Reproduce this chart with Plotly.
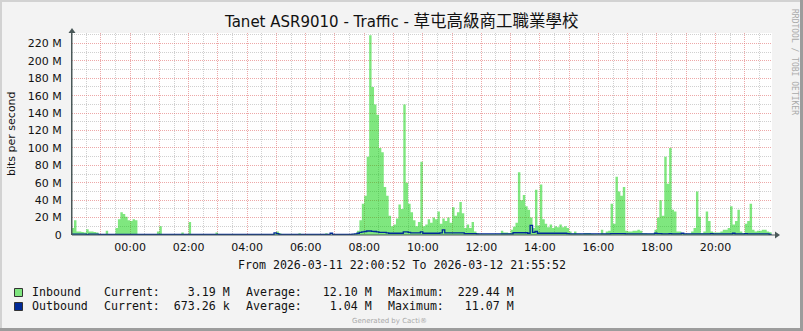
import pandas as pd
import plotly.graph_objects as go

# ---------------- data ----------------
title_latin = "Tanet ASR9010 - Traffic - "
title_cjk = "草屯高級商工職業學校"
y_axis_title = "bits per second"
range_start = "2026-03-11 22:00:52"
range_end = "2026-03-12 21:55:52"
sample_start = "2026-03-11 22:00"
sample_minutes = 5

# inbound traffic, Mbit/s, one row per hour (5-minute samples)
inbound_mbps = [
    8, 17, 4, 4, 3.5, 3, 6.5, 4, 4, 3.5, 3, 1,                 # 22:00
    0.5, 0.5, 5, 0.5, 0.5, 0.5, 8, 18, 26, 24, 21, 17,         # 23:00
    16, 18, 17, 0.4, 0.3, 0.3, 0.3, 0.3, 0.3, 0.3, 0.5, 4,     # 00:00
    10, 0.4, 0.3, 0.3, 0.3, 0.3, 0.3, 0.3, 0.3, 3, 0.3, 0.3,   # 01:00
    15, 0.5, 0.3, 0.3, 0.3, 0.3, 0.3, 0.3, 0.3, 0.3, 0.3, 3,   # 02:00
    0.3, 0.3, 0.3, 0.3, 0.3, 0.3, 0.3, 0.3, 0.3, 0.3, 0.3, 0.3,  # 03:00
    0.3, 0.3, 0.3, 0.3, 0.3, 0.3, 0.3, 0.3, 0.3, 0.3, 0.3, 2,  # 04:00
    4, 2, 0.3, 0.3, 0.3, 0.3, 0.3, 0.3, 0.3, 2, 0.3, 0.3,      # 05:00
    0.3, 0.3, 0.3, 0.3, 0.3, 0.3, 0.3, 0.3, 2, 0.3, 0.5, 0.3,  # 06:00
    0.3, 0.3, 0.5, 0.3, 0.3, 0.3, 0.5, 1, 1.5, 5, 17, 36,      # 07:00
    45, 90, 229.44, 170, 150, 138, 100, 95, 55, 45, 22, 10,    # 08:00
    12, 19, 35, 30, 150, 60, 36, 26, 17, 10, 15, 84,           # 09:00
    10, 12, 18, 14, 20, 18, 27, 13, 19, 16, 20, 14,            # 10:00
    32, 22, 26, 38, 25, 8, 12, 8, 15, 4, 2, 1,                 # 11:00
    1, 1, 1, 1, 1, 1, 1, 1, 5, 3, 3, 2,                        # 12:00
    6, 9.5, 14, 72, 40, 46, 33, 29, 20, 8, 52, 11,             # 13:00
    58, 18, 13, 9, 12, 8, 10, 9, 12, 9, 10, 8,                 # 14:00
    4, 1.5, 4, 1.5, 1.5, 1, 2.4, 2.4, 2.4, 1.2, 1, 1,          # 15:00
    1, 6, 1.5, 4, 5, 36, 13, 67, 50, 45, 55, 5,                # 16:00
    4, 4, 5, 5, 6, 5, 2, 2, 1.5, 1.5, 1.5, 6,                  # 17:00
    20, 40, 22, 90, 59, 100, 29, 27, 4, 4, 2, 1.5,             # 18:00
    1.5, 1.5, 4, 8, 50, 21, 2, 4, 27, 16, 4, 3,                # 19:00
    3, 3, 4, 6, 6, 8, 33, 12, 16, 29, 4, 2,                    # 20:00
    13, 16, 36, 6, 4, 5, 5, 6, 6, 4, 3.19, 3.19,               # 21:00
]

# outbound traffic, Mbit/s
outbound_mbps = [
    1, 1, 1, 1, 1, 1, 0.3, 1, 1, 1, 1, 0.8,                    # 22:00
    0.7, 0.7, 0.7, 0.7, 0.7, 0.7, 0.7, 0.7, 0.7, 0.7, 0.7, 0.7,  # 23:00
    0.7, 0.7, 0.7, 0.7, 0.7, 0.7, 0.7, 0.7, 0.7, 0.7, 0.7, 0.7,  # 00:00
    0.6, 0.6, 0.6, 0.6, 0.6, 0.6, 0.6, 0.6, 0.6, 0.6, 0.6, 0.6,  # 01:00
    0.6, 0.6, 0.6, 0.6, 0.6, 0.6, 0.6, 0.6, 0.6, 0.6, 0.6, 0.6,  # 02:00
    0.6, 0.6, 0.6, 0.6, 0.6, 0.6, 0.6, 0.6, 0.6, 0.6, 0.6, 0.6,  # 03:00
    0.6, 0.6, 0.6, 0.6, 0.6, 0.6, 0.6, 0.6, 0.6, 0.6, 0.6, 2.5,  # 04:00
    1.5, 0.6, 0.6, 0.6, 0.6, 0.6, 0.6, 0.6, 0.6, 0.6, 0.6, 0.6,  # 05:00
    0.6, 0.6, 0.6, 0.6, 0.6, 0.6, 0.6, 0.6, 0.6, 0.6, 2, 0.6,    # 06:00
    0.6, 0.6, 0.6, 0.6, 0.6, 0.6, 0.6, 1, 1.2, 2, 3, 3.5,        # 07:00
    4, 4.6, 4.6, 4.2, 4, 3.5, 3, 3, 3, 2.5, 2, 2,                # 08:00
    2, 2, 2, 2, 3.5, 3.5, 3, 2.5, 2.5, 2.5, 2.5, 3.5,            # 09:00
    2, 2, 2, 2, 2, 2, 2, 2.5, 6, 2.5, 2.5, 2.5,                  # 10:00
    2.5, 2.5, 2.5, 2.5, 2.5, 1.5, 1.5, 1.5, 1.5, 1.5, 1.2, 1.2,  # 11:00
    1.2, 1.2, 1.2, 1.2, 1.2, 1.2, 1.2, 1.2, 1.2, 1.2, 1.2, 1.2,  # 12:00
    1.2, 2.6, 2.6, 2.6, 2.6, 2.6, 2.6, 2, 11.07, 3, 4, 2,        # 13:00
    2, 2, 2, 2, 2, 2, 2, 2, 2, 2, 2, 1.5,                        # 14:00
    1.2, 1.2, 1.2, 1.2, 1.2, 1.2, 1.2, 1.2, 1.2, 1.2, 1.2, 1.2,  # 15:00
    1.2, 1.2, 1.2, 1.2, 1.2, 1.5, 1.5, 1.5, 1.5, 1.5, 1.5, 1.2,  # 16:00
    1.2, 1.2, 1.2, 1.2, 1.2, 1.2, 1.2, 1.2, 1.2, 1.2, 1.2, 2,    # 17:00
    1.5, 1.5, 1.2, 1.2, 1.2, 1.5, 1.2, 1.2, 1.2, 1.2, 2, 1.2,    # 18:00
    1.2, 1.2, 1.2, 1.2, 1.2, 1.2, 1.2, 1.2, 1.2, 1.2, 1.5, 1.2,  # 19:00
    1.2, 1.2, 1.2, 1.2, 1.2, 1.2, 1.2, 2, 1.2, 1.2, 1.2, 1.2,    # 20:00
    1.5, 1.2, 1.2, 1.2, 1.2, 1.2, 1.2, 1.2, 1.2, 1.2, 0.67, 0.67,  # 21:00
]

y_tick_values = [0, 20, 40, 60, 80, 100, 120, 140, 160, 180, 200, 220]
y_tick_labels = ["0", "20 M", "40 M", "60 M", "80 M", "100 M", "120 M",
                 "140 M", "160 M", "180 M", "200 M", "220 M"]
y_minor_values = [10, 30, 50, 70, 90, 110, 130, 150, 170, 190, 210, 230]
y_max = 232

x_tick_labels = ["", "00:00", "", "02:00", "", "04:00", "", "06:00", "",
                 "08:00", "", "10:00", "", "12:00", "", "14:00", "",
                 "16:00", "", "18:00", "", "20:00", ""]
x_tick_first = "2026-03-11 23:00"
x_minor_first = "2026-03-11 22:30"

legend_names = ["Inbound", "Outbound"]
legend_current = [("3.19", "M"), ("673.26", "k")]
legend_average = [("12.10", "M"), ("1.04", "M")]
legend_maximum = [("229.44", "M"), ("11.07", "M")]
period_text = "From 2026-03-11 22:00:52 To 2026-03-12 21:55:52"

# ---------------- styling ----------------
W, H = 803, 331
L, R, T, B = 72, 31, 33, 96
PW, PH = W - L - R, H - T - B

IN_FILL = "rgba(0,207,0,0.5)"
IN_LEGEND = "#7FE57F"
OUT_COLOR = "#002A97"
AXIS_COLOR = "#4A5858"
MAJOR_GRID = "rgba(225,110,110,0.6)"
MINOR_GRID = "rgba(150,150,150,0.45)"
BG = "#F3F3F3"
SANS = "DejaVu Sans, Noto Sans CJK TC, sans-serif"
MONO = "DejaVu Sans Mono, monospace"


def px(x):
    return (x - L) / PW


def py(y):
    return (H - B - y) / PH


times = pd.date_range(sample_start, periods=len(inbound_mbps), freq=f"{sample_minutes}min")
x_ticks = pd.date_range(x_tick_first, periods=len(x_tick_labels), freq="1h")
x_minor = pd.date_range(x_minor_first, periods=len(x_tick_labels) + 1, freq="1h")

fig = go.Figure()
fig.add_trace(go.Scatter(
    x=times, y=inbound_mbps, mode="lines", line=dict(width=0, shape="hv"),
    fill="tozeroy", fillcolor=IN_FILL, hoverinfo="skip", name=legend_names[0]))
fig.add_trace(go.Scatter(
    x=times, y=outbound_mbps, mode="lines",
    line=dict(width=1.3, color=OUT_COLOR, shape="hv"),
    hoverinfo="skip", name=legend_names[1]))

fig.update_layout(
    width=W, height=H,
    margin=dict(l=L, r=R, t=T, b=B, pad=0),
    paper_bgcolor=BG, plot_bgcolor="white",
    showlegend=False,
    font=dict(family=SANS, size=11, color="#111111"),
    xaxis=dict(
        type="date", range=[range_start, range_end],
        tickmode="array", tickvals=x_ticks, ticktext=x_tick_labels,
        showgrid=True, gridcolor=MAJOR_GRID, griddash="1px,1px", gridwidth=1,
        minor=dict(tickmode="array", tickvals=x_minor, showgrid=True,
                   gridcolor=MINOR_GRID, griddash="1px,1px", gridwidth=1),
        showline=False, zeroline=False, ticks="", ticklabelstandoff=4,
        tickfont=dict(family=SANS, size=11, color="#111111"),
    ),
    yaxis=dict(
        range=[0, y_max], tickmode="array", tickvals=y_tick_values, ticktext=y_tick_labels,
        showgrid=True, gridcolor=MAJOR_GRID, griddash="1px,1px", gridwidth=1,
        minor=dict(tickmode="array", tickvals=y_minor_values, showgrid=True,
                   gridcolor=MINOR_GRID, griddash="1px,1px", gridwidth=1),
        showline=True, linecolor=AXIS_COLOR, linewidth=1, zeroline=False,
        ticks="", ticklabelstandoff=7,
        tickfont=dict(family=SANS, size=11, color="#111111"),
    ),
)

shapes = []
# image frame (3D look)
shapes.append(dict(type="line", xref="paper", yref="paper", x0=px(0), x1=px(W), y0=py(1), y1=py(1),
                   line=dict(color="#D2D2D2", width=2)))
shapes.append(dict(type="line", xref="paper", yref="paper", x0=px(1), x1=px(1), y0=py(0), y1=py(H),
                   line=dict(color="#D2D2D2", width=2)))
shapes.append(dict(type="line", xref="paper", yref="paper", x0=px(0), x1=px(W), y0=py(H - 1.5), y1=py(H - 1.5),
                   line=dict(color="#9C9C9C", width=3)))
shapes.append(dict(type="line", xref="paper", yref="paper", x0=px(W - 1.5), x1=px(W - 1.5), y0=py(0), y1=py(H),
                   line=dict(color="#9C9C9C", width=3)))
# x axis line + arrows
shapes.append(dict(type="line", xref="paper", yref="paper", x0=px(L), x1=px(776), y0=py(235), y1=py(235),
                   line=dict(color=AXIS_COLOR, width=1)))
shapes.append(dict(type="path", xref="paper", yref="paper",
                   path=f"M {px(775)},{py(231.5)} L {px(780)},{py(235)} L {px(775)},{py(238.5)} Z",
                   fillcolor=AXIS_COLOR, line=dict(width=0)))
shapes.append(dict(type="line", xref="paper", yref="paper", x0=px(72), x1=px(72), y0=py(235), y1=py(31),
                   line=dict(color=AXIS_COLOR, width=1)))
shapes.append(dict(type="path", xref="paper", yref="paper",
                   path=f"M {px(68.5)},{py(33)} L {px(72)},{py(28)} L {px(75.5)},{py(33)} Z",
                   fillcolor=AXIS_COLOR, line=dict(width=0)))
# legend swatches
sw_colors = [IN_LEGEND, OUT_COLOR]
row_y = [292, 306]
for c, yy in zip(sw_colors, row_y):
    shapes.append(dict(type="rect", xref="paper", yref="paper",
                       x0=px(14.5), x1=px(22.5), y0=py(yy + 4.5), y1=py(yy - 3.5),
                       fillcolor=c, line=dict(color="#333333", width=1)))
fig.update_layout(shapes=shapes)

ann = []
ann.append(dict(xref="paper", yref="paper", x=px(401), y=py(22), xanchor="center", yanchor="middle",
                showarrow=False,
                text=f"{title_latin}<span style='font-size:16.5px'>{title_cjk}</span>",
                font=dict(family=SANS, size=15, color="#111111")))
ann.append(dict(xref="paper", yref="paper", x=px(11), y=py(134), xanchor="center", yanchor="middle",
                showarrow=False, textangle=-90, text=y_axis_title,
                font=dict(family=SANS, size=11, color="#111111")))
ann.append(dict(xref="paper", yref="paper", x=px(401.5), y=py(265), xanchor="center", yanchor="middle",
                showarrow=False, text=period_text,
                font=dict(family=MONO, size=11.6, color="#111111")))
ann.append(dict(xref="paper", yref="paper", x=px(795), y=py(62), xanchor="center", yanchor="middle",
                showarrow=False, textangle=90, text="RRDTOOL / TOBI OETIKER",
                font=dict(family=MONO, size=8, color="#AAAAAA")))
ann.append(dict(xref="paper", yref="paper", x=px(389), y=py(321), xanchor="center", yanchor="middle",
                showarrow=False, text="Generated by Cacti®",
                font=dict(family=SANS, size=7, color="#A8A8A8")))

item_x = [30, 102, 244, 386]
for i, yy in enumerate(row_y):
    cur = f"Current:{legend_current[i][0]:>8} {legend_current[i][1]}"
    avg = f"Average:{legend_average[i][0]:>8} {legend_average[i][1]}"
    mx = f"Maximum:{legend_maximum[i][0]:>8} {legend_maximum[i][1]}"
    for xx, txt in zip(item_x, [legend_names[i], cur, avg, mx]):
        ann.append(dict(xref="paper", yref="paper", x=px(xx), y=py(yy), xanchor="left", yanchor="middle",
                        showarrow=False, text=txt.replace(" ", "&nbsp;"),
                        font=dict(family=MONO, size=11.6, color="#111111")))
fig.update_layout(annotations=ann)

fig.write_html("out.html", config={"displayModeBar": False})
